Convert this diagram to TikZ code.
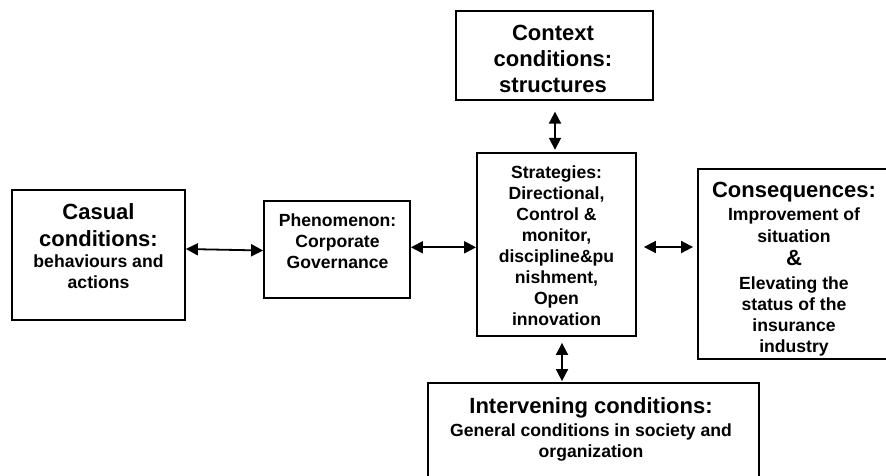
\documentclass[tikz,border=0pt]{standalone}
\usepackage{fontspec}
\setmainfont{Liberation Sans}
\usetikzlibrary{arrows.meta}
\newcommand\myhead{\fontsize{22}{26.5}\selectfont\bfseries}
\newcommand\mybody{\fontsize{17.6}{21}\selectfont\bfseries}
\tikzset{
  box/.style={draw, line width=1.8pt, inner sep=0pt, rectangle},
  headtxt/.style={font=\myhead, align=center, anchor=north, inner sep=0pt},
  bodytxt/.style={font=\mybody, align=center, anchor=north, inner sep=0pt},
  biarrow/.style={line width=1.8pt, {Triangle[length=12pt,width=12pt]}-{Triangle[length=12pt,width=12pt]}}
}
\begin{document}
\begin{tikzpicture}[x=1pt,y=-1pt]
\useasboundingbox (0,0) rectangle (886,475);
\clip (0,0) rectangle (886,475);
% boxes
\node[box, minimum width=173pt, minimum height=130pt] (casual) at (98.5,255) {};
\node[box, minimum width=146pt, minimum height=97pt] (phen) at (337,249.5) {};
\node[box, minimum width=159pt, minimum height=183pt] (strat) at (556.5,244.5) {};
\node[box, minimum width=197pt, minimum height=89pt] (context) at (554.5,55.5) {};
\node[box, minimum width=192pt, minimum height=190pt] (cons) at (794,264) {};
\node[box, minimum width=331pt, minimum height=107pt] (interv) at (593.5,436.5) {};
% texts
\node[headtxt] (casualh) at (98.5,203.5) {Casual\\conditions:};
\node[bodytxt] (casualb) at (98.5,254.3) {behaviours and\\actions};
\node[bodytxt, font=\fontsize{17.6}{20.6}\selectfont\bfseries] (phent) at (337.5,214) {Phenomenon:\\Corporate\\Governance};
\node[bodytxt, font=\fontsize{17.6}{21.1}\selectfont\bfseries] (stratt) at (556.5,165.3) {Strategies:\\Directional,\\Control \&\\monitor,\\discipline\&pu\\nishment,\\Open\\innovation};
\node[headtxt, font=\fontsize{22}{26}\selectfont\bfseries] (contextt) at (553,25.2) {Context\\conditions:\\structures};
\node[headtxt] (consh) at (794,182.2) {Consequences:};
\node[bodytxt, font=\fontsize{17.6}{22}\selectfont\bfseries] (consb1) at (794,207.3) {Improvement of\\situation};
\node[headtxt] (consamp) at (794,250.2) {\&};
\node[bodytxt] (consb2) at (794,276.3) {Elevating the\\status of the\\insurance\\industry};
\node[headtxt] (intervh) at (591,397.2) {Intervening conditions:};
\node[bodytxt] (intervb) at (591,423.3) {General conditions in society and\\organization};
% connectors
\draw[biarrow] (casual.east |- 0,249) -- (phen.west |- 0,250.5);
\draw[biarrow] (phen.east |- 0,247.3) -- (strat.west |- 0,247.3);
\draw[biarrow, shorten <=7pt, shorten >=4pt] (strat.east |- 0,247) -- (cons.west |- 0,247);
\draw[biarrow, shorten <=10.7pt, shorten >=2.3pt] (context.south -| 555,0) -- (strat.north -| 555,0);
\draw[biarrow, shorten <=6pt, shorten >=1pt] (strat.south -| 562,0) -- (interv.north -| 562,0);
\end{tikzpicture}
\end{document}
